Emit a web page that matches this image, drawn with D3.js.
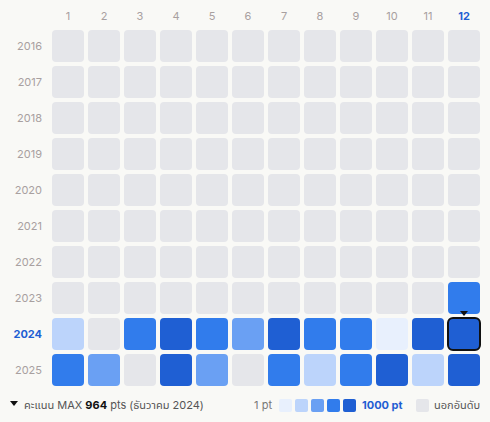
<!DOCTYPE html>
<html><head><meta charset="utf-8">
<script src="https://cdn.jsdelivr.net/npm/d3@7"></script>
<style>body{margin:0;background:#f9f9f6;font-family:Inter,"Noto Sans","Noto Sans Thai",sans-serif;}</style>
</head><body><div id="chart"></div>
<script>
const width = 490, height = 422;
const months = [1,2,3,4,5,6,7,8,9,10,11,12];
const years = [2016,2017,2018,2019,2020,2021,2022,2023,2024,2025];
// points per month, null = out of ranking
const values = {
  2023: [null,null,null,null,null,null,null,null,null,null,null,700],
  2024: [300,null,700,900,700,500,900,700,700,100,900,964],
  2025: [700,500,null,900,500,null,700,300,700,900,300,900]
};
const palette = ["#e8f0fd","#bcd4fb","#6aa0f3","#317cec","#1f5fd3"];
const maxCell = {year: 2024, month: 12, value: 964};

const svg = d3.select("#chart").append("svg").attr("width", width).attr("height", height);
const x = d3.scaleBand().domain(months).range([50, 482]).paddingInner(4/36).paddingOuter(2/36);
const y = d3.scaleBand().domain(years).range([28, 388]).paddingInner(4/36).paddingOuter(2/36);
const color = d3.scaleQuantize().domain([1, 1000]).range(palette);

svg.selectAll("text.m").data(months).enter().append("text")
  .attr("x", d => x(d) + x.bandwidth()/2).attr("y", 20).attr("text-anchor", "middle")
  .attr("font-size", 11).attr("fill", d => d === 12 ? "#1f5fd3" : "#a8a0a0")
  .attr("font-weight", d => d === 12 ? 700 : 400).text(d => d);

svg.selectAll("text.y").data(years).enter().append("text")
  .attr("x", 42).attr("y", d => y(d) + y.bandwidth()/2 + 4).attr("text-anchor", "end")
  .attr("font-size", 11).attr("fill", d => d === 2024 ? "#1f5fd3" : "#a8a0a0")
  .attr("font-weight", d => d === 2024 ? 700 : 400).text(d => d);

const cells = [];
years.forEach(yr => months.forEach((m, i) => cells.push({yr, m, v: values[yr] ? values[yr][i] : null})));
svg.selectAll("rect.c").data(cells).enter().append("rect")
  .attr("x", d => x(d.m)).attr("y", d => y(d.yr))
  .attr("width", x.bandwidth()).attr("height", y.bandwidth()).attr("rx", 4)
  .attr("fill", d => d.v == null ? "#e5e6ea" : color(d.v));

// highlight max
const hx = x(maxCell.month), hy = y(maxCell.year);
svg.append("rect").attr("x", hx).attr("y", hy).attr("width", x.bandwidth()).attr("height", y.bandwidth())
  .attr("rx", 5).attr("fill", "none").attr("stroke", "#111").attr("stroke-width", 2);
svg.append("path").attr("d", `M${hx+x.bandwidth()/2-4},${hy-7}h8l-4,5z`).attr("fill", "#111");

// legend
const ly = 405;
svg.append("path").attr("d", `M10,${ly-4}h8l-4,5z`).attr("fill", "#111");
const t = svg.append("text").attr("x", 24).attr("y", ly+4).attr("font-size", 11).attr("fill", "#555");
t.append("tspan").text("คะแนน MAX ");
t.append("tspan").attr("font-weight", 700).attr("fill", "#111").text(maxCell.value);
t.append("tspan").text(" pts (ธันวาคม 2024)");
svg.append("text").attr("x", 272).attr("y", ly+4).attr("text-anchor", "end").attr("font-size", 11).attr("fill", "#777").text("1 pt");
svg.selectAll("rect.l").data(palette).enter().append("rect")
  .attr("x", (d, i) => 279 + i*16).attr("y", ly-6).attr("width", 13).attr("height", 13).attr("rx", 2).attr("fill", d => d);
svg.append("text").attr("x", 362).attr("y", ly+4).attr("font-size", 11).attr("font-weight", 700).attr("fill", "#1f5fd3").text("1000 pt");
svg.append("rect").attr("x", 416).attr("y", ly-6).attr("width", 13).attr("height", 13).attr("rx", 2).attr("fill", "#e5e6ea");
svg.append("text").attr("x", 434).attr("y", ly+4).attr("font-size", 11).attr("fill", "#555").text("นอกอันดับ");
</script></body></html>
